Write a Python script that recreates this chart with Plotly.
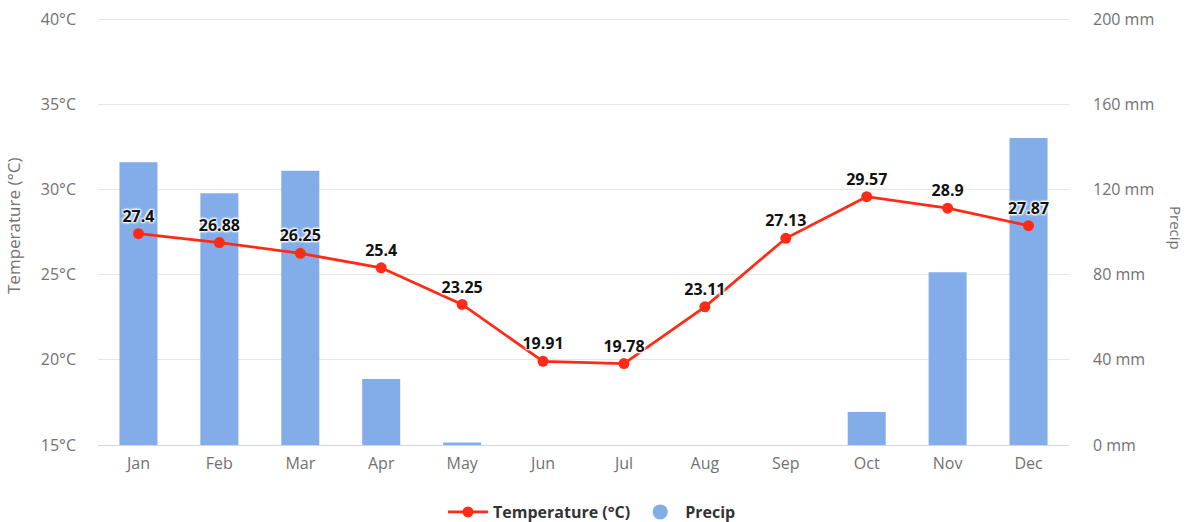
import plotly.graph_objects as go

months = ["Jan", "Feb", "Mar", "Apr", "May", "Jun", "Jul", "Aug", "Sep", "Oct", "Nov", "Dec"]
temperature = [27.4, 26.88, 26.25, 25.4, 23.25, 19.91, 19.78, 23.11, 27.13, 29.57, 28.9, 27.87]
precip = [132.7, 118.2, 128.8, 31.0, 1.2, 0, 0, 0, 0, 15.5, 81.1, 144.1]

temp_ticks = [15, 20, 25, 30, 35, 40]
precip_ticks = [0, 40, 80, 120, 160, 200]

RED = "#ff2b16"
BLUE = "#83ade8"
FONT = "Open Sans"
TICKC = "#727272"

W, H = 1189, 522
ML, MR, MT, MB = 98, 120, 16, 77
EXTRA_PX = 3  # headroom above top gridline so it is not clipped
px_per_mm = 426 / 200
px_per_deg = 426 / 25

fig = go.Figure()

fig.add_trace(go.Bar(
    x=months, y=precip, name="Precip", yaxis="y",
    marker=dict(color=BLUE, line=dict(width=0)),
    width=0.47, showlegend=False, hoverinfo="x+y",
))

fig.add_trace(go.Scatter(
    x=months, y=temperature, name="Temperature (°C)", yaxis="y2",
    mode="lines+markers+text",
    line=dict(color=RED, width=2.8),
    marker=dict(color=RED, size=11),
    text=[str(v) for v in temperature],
    textposition="top center",
    textfont=dict(family=FONT, size=16, color="#111111", weight="bold",
                  shadow="1px 1px 2px #ffffff, -1px -1px 2px #ffffff, 1px -1px 2px #ffffff, -1px 1px 2px #ffffff"),
    cliponaxis=False,
))

# legend proxy for bar series (circle symbol as in reference)
fig.add_trace(go.Scatter(
    x=[None], y=[None], name="Precip", mode="markers",
    marker=dict(color=BLUE, size=15, symbol="circle"),
    yaxis="y",
))

fig.update_layout(
    width=W, height=H,
    margin=dict(l=ML, r=MR, t=MT, b=MB, autoexpand=False),
    paper_bgcolor="white", plot_bgcolor="white",
    font=dict(family=FONT, size=16, color=TICKC),
    xaxis=dict(
        type="category", categoryorder="array", categoryarray=months,
        showgrid=False, showline=True, linecolor="#ccd6eb", linewidth=1,
        ticks="", tickfont=dict(size=16, color=TICKC), ticklabelstandoff=4,
        range=[-0.5, 11.5], zeroline=False, automargin=False,
    ),
    yaxis=dict(
        side="right", range=[0, 200 + EXTRA_PX / px_per_mm], tickvals=precip_ticks,
        ticktext=[f"{v} mm" for v in precip_ticks],
        showgrid=True, gridcolor="#e6e6e6", gridwidth=1, zeroline=False,
        ticks="", ticklabelstandoff=23, tickfont=dict(size=16, color=TICKC),
        showline=False, automargin=False,
    ),
    yaxis2=dict(
        side="left", overlaying="y", range=[15, 40 + EXTRA_PX / px_per_deg], tickvals=temp_ticks,
        ticktext=[f"{v}°C" for v in temp_ticks],
        showgrid=False, zeroline=False, ticks="", ticklabelstandoff=21,
        tickfont=dict(size=16, color=TICKC), showline=False, automargin=False,
    ),
    legend=dict(
        orientation="h", xref="container", x=592 / W, xanchor="center",
        yref="container", y=(H - 512) / H, yanchor="middle",
        font=dict(family=FONT, size=16, color="#333333", weight="bold"),
        itemwidth=40, bgcolor="rgba(0,0,0,0)",
    ),
)

plot_w = W - ML - MR
plot_h = H - MT - MB
fig.add_annotation(text="Temperature (°C)", x=(14 - ML) / plot_w, xref="paper",
                   y=(H - MB - 226) / plot_h, yref="paper",
                   showarrow=False, textangle=-90, font=dict(size=17, color=TICKC),
                   xanchor="center", yanchor="middle")
fig.add_annotation(text="Precip", x=(1176 - ML) / plot_w, xref="paper",
                   y=(H - MB - 228) / plot_h, yref="paper",
                   showarrow=False, textangle=90, font=dict(size=15, color=TICKC),
                   xanchor="center", yanchor="middle")

fig.write_html("out.html", config={"displayModeBar": False},
               post_script="document.body.style.margin='0px';document.body.style.padding='0px';")
